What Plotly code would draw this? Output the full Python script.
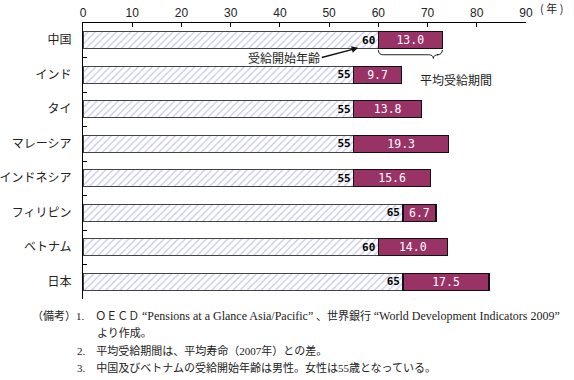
import plotly.graph_objects as go

countries = ["中国", "インド", "タイ", "マレーシア", "インドネシア", "フィリピン", "ベトナム", "日本"]
start_age = [60, 55, 55, 55, 55, 65, 60, 65]
period = [13.0, 9.7, 13.8, 19.3, 15.6, 6.7, 14.0, 17.5]
x_ticks = [0, 10, 20, 30, 40, 50, 60, 70, 80, 90]
LAT = '<span style="font-size:12px">'
notes = [
    f"（備考）1.　ＯＥＣＤ {LAT}“Pensions at a Glance Asia/Pacific”</span> 、世界銀行 {LAT}“World Development Indicators 2009”</span>",
    "より作成。",
    "2.　平均受給期間は、平均寿命（2007年）との差。",
    "3.　中国及びベトナムの受給開始年齢は男性。女性は55歳となっている。",
]

W, H = 574, 380
ML, MR, MT, MB = 83, 48, 23, 81
PW = W - ML - MR
PH = H - MT - MB
N = len(countries)


def px_x(px):
    return (px - ML) / PW


def px_y(py):
    return (H - MB - py) / PH


def idx_y(v):
    # category index (reversed axis) -> y domain fraction
    return (N - 0.5 - v) / N


fig = go.Figure()
fig.add_bar(
    y=countries, x=start_age, orientation="h", width=0.5,
    marker=dict(color="white",
                pattern=dict(shape="/", fgcolor="#8c8ce0", bgcolor="white", size=5, solidity=0.25),
                line=dict(color="#444444", width=1.2)),
    texttemplate="%{x}", textposition="inside", insidetextanchor="end",
    textfont=dict(family="DejaVu Sans Mono", size=11, color="black", weight="bold"),
    textangle=0, constraintext="none", hoverinfo="skip",
)
fig.add_bar(
    y=countries, x=period, orientation="h", width=0.5,
    marker=dict(color="#993366", line=dict(color="#111111", width=1.2)),
    texttemplate="%{x:.1f}", textposition="inside", insidetextanchor="middle",
    textfont=dict(family="DejaVu Sans Mono", size=11.5, color="white"),
    textangle=0, constraintext="none", hoverinfo="skip",
)

# brace under China's average-period bar
b0 = start_age[0]
b1 = start_age[0] + period[0]
tip = b0 + period[0] * 0.86
r = 1.0
top, mid, bot = idx_y(0.28), idx_y(0.42), idx_y(0.53)
path = (f"M {b0},{top} Q {b0},{mid} {b0 + r},{mid} L {tip - r},{mid} "
        f"Q {tip},{mid} {tip},{bot} Q {tip},{mid} {tip + r},{mid} "
        f"L {b1 - r},{mid} Q {b1},{mid} {b1},{top}")
fig.add_shape(type="path", path=path, xref="x", yref="paper",
              line=dict(color="#222222", width=1))

annotations = [
    dict(text="( 年 )", x=x_ticks[-1], xref="x", xanchor="left", xshift=12,
         y=1, yref="paper", yanchor="bottom", yshift=5, showarrow=False,
         font=dict(family="Noto Sans CJK JP", size=11, color="#222")),
    dict(text="平均受給期間", x=b1 + 2.8, xref="x", y=idx_y(0.82), yref="paper",
         showarrow=False, font=dict(family="Noto Sans CJK JP", size=12, color="#222")),
    dict(text="受給開始年齢", x=start_age[0] - 4.1, xref="x", y=idx_y(0.22), yref="y domain",
         ax=start_age[0] - 11.5, axref="x", ay=idx_y(0.5), ayref="y domain",
         xanchor="right", yanchor="middle",
         showarrow=True, arrowhead=2, arrowsize=1, arrowwidth=1.3, arrowcolor="#111",
         standoff=0, startstandoff=0,
         font=dict(family="Noto Sans CJK JP", size=12, color="#222")),
]

note_font = dict(family="Liberation Serif, Noto Sans CJK JP", size=11, color="#222")
note_pos = [(30, 316), (95, 333), (75, 350), (75, 367)]
for t, (nx, ny) in zip(notes, note_pos):
    annotations.append(dict(text=t, x=px_x(nx), xref="paper", xanchor="left",
                            y=px_y(ny), yref="paper", yanchor="middle",
                            showarrow=False, font=note_font))

fig.update_layout(
    width=W, height=H, margin=dict(l=ML, r=MR, t=MT, b=MB, autoexpand=False),
    barmode="stack", showlegend=False, bargap=0.5,
    plot_bgcolor="white", paper_bgcolor="white",
    annotations=annotations,
    xaxis=dict(range=[x_ticks[0], x_ticks[-1]], side="top", tickvals=x_ticks,
               ticks="inside", ticklen=4, tickcolor="black", showline=True,
               linecolor="black", linewidth=1, showgrid=False, zeroline=False,
               automargin=False,
               tickfont=dict(family="Liberation Sans Narrow, Liberation Sans", size=12, color="#222")),
    yaxis=dict(type="category", categoryorder="array", categoryarray=countries,
               range=[N - 0.5, -0.5], tickson="boundaries", ticks="inside",
               ticklen=4, tickcolor="black", showline=True, linecolor="black",
               linewidth=1, showgrid=False, zeroline=False, ticklabelstandoff=8,
               automargin=False,
               tickfont=dict(family="Noto Sans CJK JP", size=12, color="#222")),
    font=dict(family="Noto Sans CJK JP"),
)

fig.write_html("out.html", config={"displayModeBar": False},
               post_script="document.body.style.margin='0px';document.body.style.overflow='hidden';")
